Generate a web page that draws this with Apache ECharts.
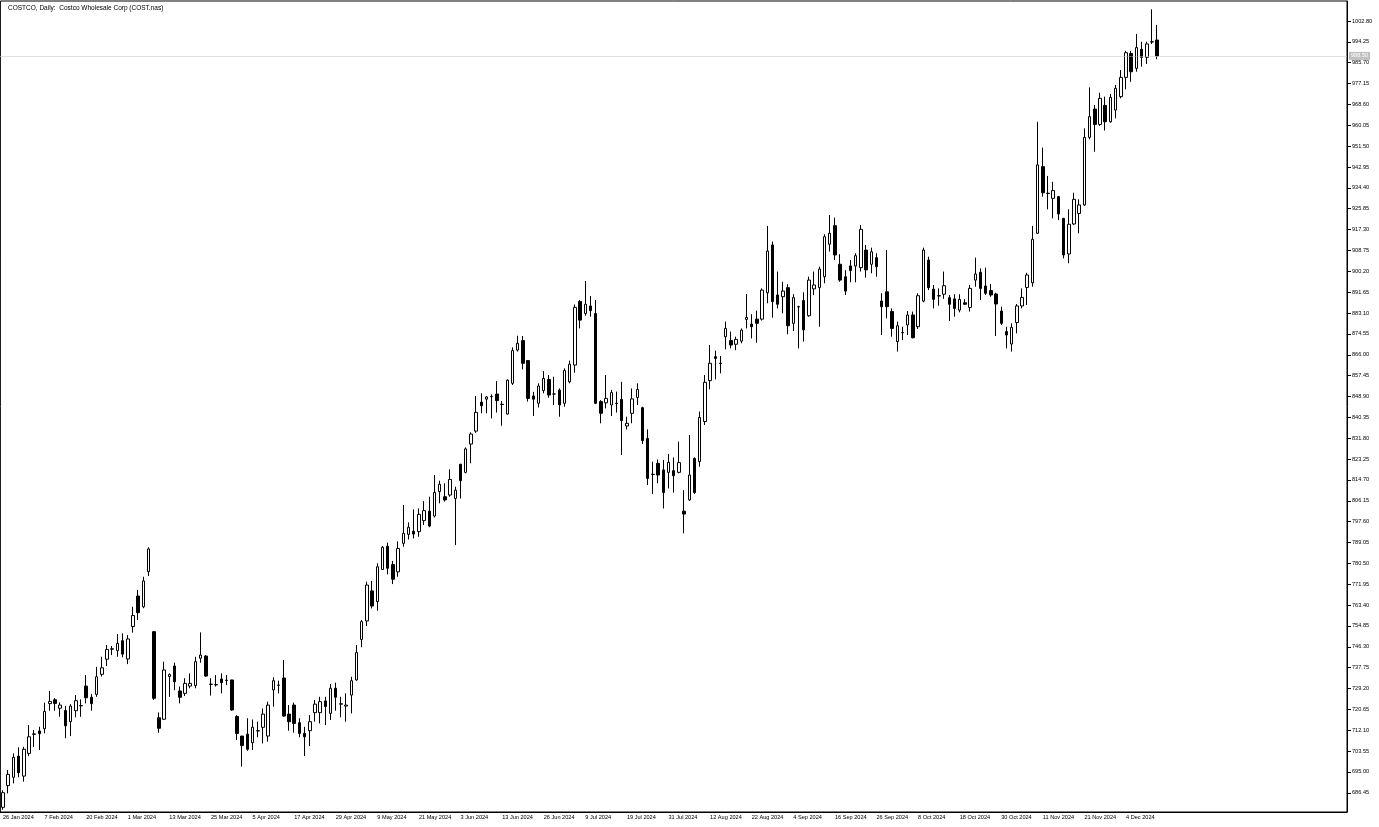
<!DOCTYPE html>
<html>
<head>
<meta charset="utf-8">
<script src="https://cdn.jsdelivr.net/npm/echarts@6/dist/echarts.min.js"></script>
<style>
html,body{margin:0;padding:0;background:#fff;}
#c{width:1379px;height:827px;}
</style>
</head>
<body>
<div id="c"></div>
<script>
const titleText = "COSTCO, Daily:  Costco Wholesale Corp (COST.nas)";

const dates = [
"26 Jan 2024","29 Jan 2024","30 Jan 2024","31 Jan 2024",
"1 Feb 2024","2 Feb 2024","5 Feb 2024","6 Feb 2024","7 Feb 2024","8 Feb 2024","9 Feb 2024","12 Feb 2024","13 Feb 2024","14 Feb 2024","15 Feb 2024","16 Feb 2024","20 Feb 2024","21 Feb 2024","22 Feb 2024","23 Feb 2024","26 Feb 2024","27 Feb 2024","28 Feb 2024","29 Feb 2024",
"1 Mar 2024","4 Mar 2024","5 Mar 2024","6 Mar 2024","7 Mar 2024","8 Mar 2024","11 Mar 2024","12 Mar 2024","13 Mar 2024","14 Mar 2024","15 Mar 2024","18 Mar 2024","19 Mar 2024","20 Mar 2024","21 Mar 2024","22 Mar 2024","25 Mar 2024","26 Mar 2024","27 Mar 2024","28 Mar 2024",
"1 Apr 2024","2 Apr 2024","3 Apr 2024","4 Apr 2024","5 Apr 2024","8 Apr 2024","9 Apr 2024","10 Apr 2024","11 Apr 2024","12 Apr 2024","15 Apr 2024","16 Apr 2024","17 Apr 2024","18 Apr 2024","19 Apr 2024","22 Apr 2024","23 Apr 2024","24 Apr 2024","25 Apr 2024","26 Apr 2024","29 Apr 2024","30 Apr 2024",
"1 May 2024","2 May 2024","3 May 2024","6 May 2024","7 May 2024","8 May 2024","9 May 2024","10 May 2024","13 May 2024","14 May 2024","15 May 2024","16 May 2024","17 May 2024","20 May 2024","21 May 2024","22 May 2024","23 May 2024","24 May 2024","28 May 2024","29 May 2024","30 May 2024","31 May 2024",
"3 Jun 2024","4 Jun 2024","5 Jun 2024","6 Jun 2024","7 Jun 2024","10 Jun 2024","11 Jun 2024","12 Jun 2024","13 Jun 2024","14 Jun 2024","17 Jun 2024","18 Jun 2024","20 Jun 2024","21 Jun 2024","24 Jun 2024","25 Jun 2024","26 Jun 2024","27 Jun 2024","28 Jun 2024",
"1 Jul 2024","2 Jul 2024","3 Jul 2024","5 Jul 2024","8 Jul 2024","9 Jul 2024","10 Jul 2024","11 Jul 2024","12 Jul 2024","15 Jul 2024","16 Jul 2024","17 Jul 2024","18 Jul 2024","19 Jul 2024","22 Jul 2024","23 Jul 2024","24 Jul 2024","25 Jul 2024","26 Jul 2024","29 Jul 2024","30 Jul 2024","31 Jul 2024",
"1 Aug 2024","2 Aug 2024","5 Aug 2024","6 Aug 2024","7 Aug 2024","8 Aug 2024","9 Aug 2024","12 Aug 2024","13 Aug 2024","14 Aug 2024","15 Aug 2024","16 Aug 2024","19 Aug 2024","20 Aug 2024","21 Aug 2024","22 Aug 2024","23 Aug 2024","26 Aug 2024","27 Aug 2024","28 Aug 2024","29 Aug 2024","30 Aug 2024",
"3 Sep 2024","4 Sep 2024","5 Sep 2024","6 Sep 2024","9 Sep 2024","10 Sep 2024","11 Sep 2024","12 Sep 2024","13 Sep 2024","16 Sep 2024","17 Sep 2024","18 Sep 2024","19 Sep 2024","20 Sep 2024","23 Sep 2024","24 Sep 2024","25 Sep 2024","26 Sep 2024","27 Sep 2024","30 Sep 2024",
"1 Oct 2024","2 Oct 2024","3 Oct 2024","4 Oct 2024","7 Oct 2024","8 Oct 2024","9 Oct 2024","10 Oct 2024","11 Oct 2024","14 Oct 2024","15 Oct 2024","16 Oct 2024","17 Oct 2024","18 Oct 2024","21 Oct 2024","22 Oct 2024","23 Oct 2024","24 Oct 2024","25 Oct 2024","28 Oct 2024","29 Oct 2024","30 Oct 2024","31 Oct 2024",
"1 Nov 2024","4 Nov 2024","5 Nov 2024","6 Nov 2024","7 Nov 2024","8 Nov 2024","11 Nov 2024","12 Nov 2024","13 Nov 2024","14 Nov 2024","15 Nov 2024","18 Nov 2024","19 Nov 2024","20 Nov 2024","21 Nov 2024","22 Nov 2024","25 Nov 2024","26 Nov 2024","27 Nov 2024","29 Nov 2024",
"2 Dec 2024","3 Dec 2024","4 Dec 2024","5 Dec 2024","6 Dec 2024","9 Dec 2024","10 Dec 2024","11 Dec 2024","12 Dec 2024"
];

const open = [
680.5,689.4,692.8,701.5,693.3,702.6,710.4,711.8,712.7,723.0,724.6,721.1,720.2,715.6,720.1,722.2,730.2,725.6,726.8,735.0,
741.2,745.3,744.7,748.8,741.3,754.6,767.1,762.7,777.1,752.5,717.2,716.6,734.1,738.4,728.2,727.2,730.2,730.4,741.6,742.5,
730.9,730.8,733.1,732.6,732.7,717.7,709.7,710.5,707.0,711.8,713.3,709.7,728.6,730.5,733.5,718.7,722.4,715.2,710.8,711.9,
719.3,719.3,724.1,719.0,729.3,722.9,722.0,726.5,732.7,749.3,756.9,769.2,764.8,778.0,787.5,780.0,777.0,788.7,792.4,793.7,
793.5,798.0,801.9,799.9,809.9,807.8,808.5,807.1,821.1,817.8,829.4,834.7,846.6,847.8,848.8,849.9,845.7,841.7,854.3,867.9,
871.8,863.6,849.1,846.1,851.3,855.9,849.9,851.5,846.1,854.9,861.8,887.8,882.9,886.0,882.9,846.8,846.3,845.4,846.1,847.7,
836.8,842.0,848.5,844.3,831.7,817.0,821.5,818.8,817.8,818.5,817.8,801.9,806.5,823.5,822.2,838.6,855.4,865.2,862.5,873.4,
871.8,870.3,871.6,880.5,878.6,880.6,880.6,891.4,911.0,890.5,889.8,893.5,878.9,885.7,888.2,882.0,893.0,893.5,898.0,911.3,
918.9,903.1,898.0,902.4,902.4,901.7,908.9,903.1,905.8,888.0,891.8,883.7,871.4,875.1,878.2,882.3,877.5,888.0,904.8,892.9,
890.2,890.8,889.4,888.9,884.3,887.3,885.4,896.6,899.8,894.2,892.3,890.9,883.9,875.5,870.4,879.2,886.0,893.6,895.5,915.8,
943.1,932.2,930.1,930.8,921.9,907.3,919.6,923.9,927.4,955.1,966.7,960.4,968.2,961.5,966.3,971.8,979.7,989.5,983.4,991.2,
987.9,994.2,995.0
];
const high = [
687.5,695.8,702.6,705.1,705.3,714.2,712.2,713.5,723.4,728.2,725.3,723.5,722.0,722.8,726.5,724.7,734.7,726.9,738.1,742.2,
747.0,746.6,751.5,751.8,751.1,762.7,769.6,775.0,787.1,752.6,719.4,740.2,735.4,739.8,730.0,733.4,735.4,742.2,752.2,742.9,
733.4,734.7,735.4,734.7,732.8,718.3,709.8,717.0,716.5,715.6,721.0,723.8,733.8,732.4,740.9,722.4,723.4,717.0,713.5,718.3,
724.5,725.8,725.8,731.0,731.6,725.8,727.2,734.0,747.0,757.3,773.0,773.3,780.5,787.6,789.0,781.5,789.5,804.4,797.3,802.6,
803.0,806.0,807.8,816.7,814.4,813.3,819.0,811.9,821.3,828.0,834.2,849.1,850.2,849.1,849.8,855.2,847.0,855.9,869.0,873.8,
873.7,863.8,850.8,854.3,859.3,857.7,857.0,852.2,860.4,863.6,886.6,888.4,896.2,890.1,888.4,847.4,857.7,851.6,850.9,854.9,
840.6,852.2,854.3,844.7,835.4,822.2,823.1,822.9,825.3,823.9,830.4,810.5,833.1,823.9,842.7,857.7,870.0,867.7,865.5,879.6,
875.5,873.4,876.8,890.9,882.6,884.1,893.2,918.8,912.4,900.1,895.9,894.9,890.8,886.1,891.6,898.0,900.1,902.1,915.4,923.3,
922.2,907.2,900.7,904.8,907.6,919.2,911.0,909.9,907.6,891.2,908.9,885.0,879.6,877.5,883.9,883.7,891.2,909.9,906.2,894.6,
893.2,900.1,890.5,890.8,890.8,888.8,894.6,905.8,901.4,901.7,895.0,891.4,885.7,877.5,878.9,886.8,893.2,899.6,918.8,961.5,
950.9,939.3,936.9,931.1,922.1,925.6,932.4,929.7,958.8,975.6,968.4,973.4,971.8,972.9,976.6,982.7,990.6,990.6,997.5,994.3,
994.3,1007.6,1001.2
];
const low = [
679.5,686.2,690.3,692.8,691.0,701.5,705.3,704.0,710.8,720.1,720.1,717.6,708.8,709.7,717.4,717.6,723.1,720.1,725.8,734.1,
738.4,742.9,742.2,742.0,739.2,752.1,757.3,762.1,775.3,724.5,711.1,716.3,725.8,728.5,723.1,726.1,729.3,729.3,739.8,734.0,
726.3,730.0,727.2,730.6,720.1,708.1,697.2,703.7,704.0,709.2,706.7,707.4,721.7,727.2,717.6,711.9,711.1,709.2,701.5,705.6,
715.6,714.9,714.2,716.3,720.1,717.4,715.6,719.0,732.4,746.1,754.8,762.0,761.1,777.8,776.0,772.0,775.0,787.3,790.3,790.7,
791.4,796.2,795.3,799.3,805.1,805.8,807.8,788.0,807.1,817.4,821.5,834.0,842.0,842.0,839.9,842.3,836.9,841.5,853.6,867.3,
860.0,846.8,840.9,844.4,850.2,848.4,845.4,840.6,844.7,854.3,858.6,876.8,882.0,881.6,845.8,837.9,844.0,840.9,842.3,824.9,
835.4,837.9,845.4,829.4,812.6,808.9,813.3,803.0,811.2,809.5,817.4,792.8,806.2,808.9,820.1,837.2,851.8,855.9,858.4,868.2,
868.6,867.9,870.7,876.8,872.7,870.9,880.0,887.1,881.2,885.0,883.0,874.4,875.7,868.6,871.4,881.6,890.5,877.5,895.3,908.3,
904.8,895.9,890.5,895.7,895.7,900.1,897.6,899.4,898.0,874.1,880.9,873.4,867.3,872.0,874.1,872.7,876.6,887.5,892.5,885.0,
886.1,888.9,879.8,881.6,883.4,886.4,883.7,893.9,888.4,890.5,889.8,873.7,878.2,868.6,867.3,874.8,885.0,886.4,893.9,915.5,
930.8,925.6,921.9,921.2,905.5,903.5,919.2,915.8,927.0,954.3,949.2,959.8,957.9,961.1,962.9,971.1,974.8,977.9,982.0,984.1,
985.2,993.4,987.1
];
const close = [
686.5,694.0,701.0,694.7,704.3,709.4,710.6,710.7,719.8,723.9,723.1,722.4,713.9,722.0,724.2,722.1,725.4,723.0,734.0,737.7,
745.2,745.5,747.7,743.3,749.5,759.1,760.3,773.3,786.4,725.2,712.9,736.8,734.9,732.0,725.6,731.3,731.3,740.2,742.9,734.3,
731.0,730.7,731.6,732.5,720.4,710.8,705.8,704.3,713.3,711.9,718.7,722.4,732.4,730.6,717.9,715.6,714.9,710.8,709.4,715.6,
722.8,723.8,721.8,729.3,725.6,722.8,722.4,732.4,744.0,756.6,771.6,763.0,779.1,787.1,778.5,774.0,786.6,792.8,795.3,792.5,
800.6,802.1,795.8,809.6,812.9,806.5,814.9,810.5,814.4,827.4,833.5,842.4,845.1,848.7,848.9,847.2,845.6,855.6,867.7,870.7,
862.5,848.1,847.8,853.2,856.3,849.5,849.9,845.4,859.5,862.1,885.4,880.2,886.7,884.1,846.1,842.0,848.1,850.5,846.0,839.0,
837.9,847.9,851.8,830.8,815.3,816.9,816.7,809.5,821.9,816.4,821.8,800.7,816.7,809.5,840.3,854.7,862.5,864.5,862.4,876.8,
870.0,872.3,876.1,881.3,877.5,878.9,892.5,908.5,887.8,886.7,892.1,877.9,889.4,885.6,876.2,896.6,894.6,901.1,914.4,915.8,
906.9,896.6,892.1,900.5,906.6,917.4,900.8,908.2,902.1,885.7,885.7,876.8,877.9,875.0,882.3,873.0,890.2,908.9,893.5,888.7,
890.1,894.3,886.7,885.0,888.7,886.7,893.2,899.1,893.2,891.2,890.5,886.8,878.9,874.1,877.2,886.0,889.5,898.7,913.3,943.8,
932.4,932.1,933.3,923.7,906.9,919.5,929.7,927.4,955.1,963.6,960.4,971.1,961.5,971.5,975.2,979.7,989.8,982.0,991.9,987.9,
993.4,994.3,988.5
];

const yTicks = [686.45,695.00,703.55,712.10,720.65,729.20,737.75,746.30,754.85,763.40,771.95,780.50,789.05,797.60,806.15,814.70,
823.25,831.80,840.35,848.90,857.45,866.00,874.55,883.10,891.65,900.20,908.75,917.30,925.85,934.40,942.95,951.50,960.05,
968.60,977.15,985.70,994.25,1002.80];

const EMPTY_SLOTS = 36;
const cats = dates.concat(new Array(EMPTY_SLOTS).fill(''));
const candles = dates.map((d, i) => [open[i], close[i], low[i], high[i]]);
const lastClose = close[close.length - 1];

const FONT = 'Liberation Sans';
const showEvery8 = (idx, val) => idx % 8 === 0 && val !== '';

const chart = echarts.init(document.getElementById('c'), null, {renderer: 'canvas'});
chart.setOption({
  animation: false,
  backgroundColor: '#fff',
  title: {
    text: titleText, left: 3, top: 0,
    textStyle: {fontFamily: FONT, fontSize: 6.5, fontWeight: 'normal', color: '#000'}
  },
  grid: {left: 0, right: 32, top: 1, bottom: 15, show: true, borderColor: '#000', borderWidth: 1, backgroundColor: '#fff'},
  xAxis: {
    type: 'category', data: cats, boundaryGap: true,
    axisLine: {lineStyle: {color: '#000', width: 1}},
    axisTick: {alignWithLabel: true, interval: showEvery8, length: 3, lineStyle: {color: '#000'}},
    axisLabel: {interval: showEvery8, align: 'left', fontFamily: FONT, fontSize: 5.6, color: '#000', margin: 2},
    splitLine: {show: false}
  },
  yAxis: {
    type: 'value', position: 'right', min: 678.58, max: 1011.0,
    axisLine: {show: true, lineStyle: {color: '#000', width: 1}},
    axisTick: {show: true, length: 4, customValues: yTicks, lineStyle: {color: '#000'}},
    axisLabel: {customValues: yTicks, formatter: v => v.toFixed(2), fontFamily: FONT, fontSize: 5.6, color: '#000', margin: 5},
    splitLine: {show: false}
  },
  series: [{
    type: 'candlestick',
    data: candles,
    barWidth: 3,
    itemStyle: {color: '#fff', color0: '#000', borderColor: '#000', borderColor0: '#000', borderWidth: 1},
    markLine: {
      silent: true, symbol: ['none', 'none'],
      data: [{yAxis: lastClose}],
      lineStyle: {color: '#c0c0c0', type: 'dotted', width: 1},
      label: {position: 'end', distance: 2, formatter: () => lastClose.toFixed(2),
        backgroundColor: '#c0c0c0', color: '#fff', fontFamily: FONT, fontSize: 5.6, padding: [1, 2]}
    }
  }]
});
</script>
</body>
</html>
